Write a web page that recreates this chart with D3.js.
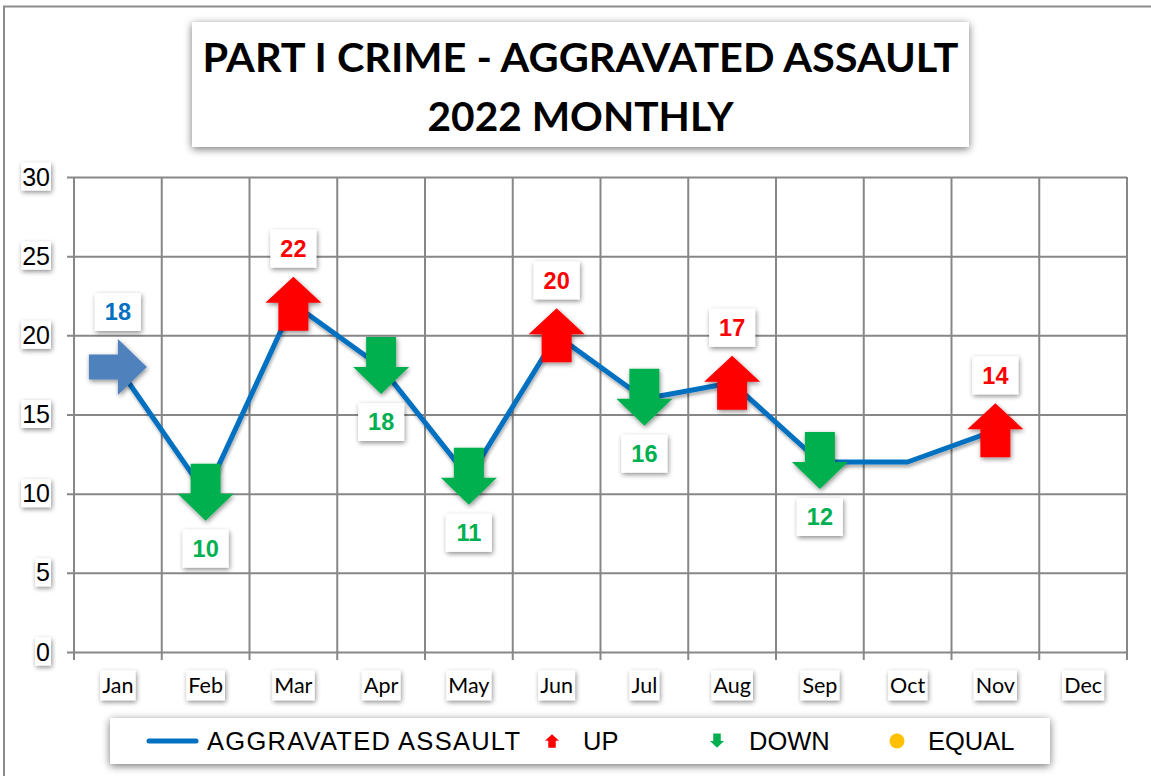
<!DOCTYPE html>
<html>
<head>
<meta charset="utf-8">
<script src="https://cdn.jsdelivr.net/npm/d3@7"></script>
<style>
  html, body { margin: 0; padding: 0; background: #fff; }
  svg { display: block; }
</style>
</head>
<body>
<svg id="chart" width="1151" height="776"></svg>
<script>
// Monthly counts and the trend marker shown at each month
const months = ["Jan", "Feb", "Mar", "Apr", "May", "Jun", "Jul", "Aug", "Sep", "Oct", "Nov", "Dec"];
const counts = [18, 10, 22, 18, 11, 20, 16, 17, 12, 12, 14, null];
const trend  = ["start", "down", "up", "down", "down", "up", "down", "up", "down", "none", "up", "none"];
const yTicks = [0, 5, 10, 15, 20, 25, 30];
const titleLines = ["PART I CRIME - AGGRAVATED ASSAULT", "2022 MONTHLY"];
const legendItems = [
  { key: "line",  label: "AGGRAVATED ASSAULT" },
  { key: "up",    label: "UP" },
  { key: "down",  label: "DOWN" },
  { key: "equal", label: "EQUAL" }
];

const COLORS = {
  line: "#0070C0", up: "#FF0000", down: "#00B050", start: "#4F81BD",
  startLabel: "#0070C0", equal: "#FFC000", grid: "#878787"
};

const svg = d3.select("#chart");
const defs = svg.append("defs");

function shadow(id, dx, dy, blur, opacity) {
  const f = defs.append("filter").attr("id", id)
    .attr("x", "-30%").attr("y", "-30%").attr("width", "160%").attr("height", "160%");
  f.append("feGaussianBlur").attr("in", "SourceAlpha").attr("stdDeviation", blur).attr("result", "b");
  f.append("feOffset").attr("in", "b").attr("dx", dx).attr("dy", dy).attr("result", "o");
  f.append("feComponentTransfer").attr("in", "o").attr("result", "s")
    .append("feFuncA").attr("type", "linear").attr("slope", opacity);
  const m = f.append("feMerge");
  m.append("feMergeNode").attr("in", "s");
  m.append("feMergeNode").attr("in", "SourceGraphic");
}
shadow("soft", 1, 2, 2.5, 0.45);
shadow("boxShadow", 0, 2, 4, 0.55);
shadow("lineShadow", 1, 3, 1.5, 0.3);

// outer frame
svg.append("rect").attr("x", 4).attr("y", 6.5).attr("width", 1160).attr("height", 780)
  .attr("fill", "#fff").attr("stroke", "#8c8c8c").attr("stroke-width", 2);

// plot scales
const plot = { left: 74, right: 1127, top: 177, bottom: 652 };
const x = d3.scaleBand().domain(months).range([plot.left, plot.right]);
const y = d3.scaleLinear().domain([0, 30]).range([plot.bottom, plot.top]);
const cx = m => x(m) + x.bandwidth() / 2;

// title box
const tg = svg.append("g");
tg.append("rect").attr("x", 192).attr("y", 22).attr("width", 777).attr("height", 125)
  .attr("fill", "#fff").attr("filter", "url(#boxShadow)");
const titleW = [756, 306];
const titleY = [72, 131];
titleLines.forEach((t, i) => {
  tg.append("text").attr("x", 580.5).attr("y", titleY[i]).attr("text-anchor", "middle")
    .attr("font-family", "Lato, 'Open Sans', sans-serif").attr("font-weight", 700)
    .attr("font-size", 40).attr("fill", "#000")
    .attr("textLength", titleW[i]).attr("lengthAdjust", "spacingAndGlyphs")
    .text(t);
});

// horizontal gridlines + y labels
const yAxis = svg.append("g").attr("transform", `translate(${plot.left - 7},0)`)
  .call(d3.axisLeft(y).tickValues(yTicks).tickSize(-(plot.right - plot.left + 7)).tickPadding(17));
yAxis.select(".domain").remove();
yAxis.selectAll(".tick line").attr("stroke", COLORS.grid).attr("stroke-width", 2);
yAxis.selectAll(".tick text").attr("font-family", "Arial, 'Liberation Sans', sans-serif")
  .attr("font-size", 25).attr("fill", "#000");

// vertical gridlines at band edges, extended below the base as ticks
const edges = months.map(m => x(m)).concat([plot.right]);
svg.append("g").selectAll("line").data(edges).join("line")
  .attr("x1", d => d).attr("x2", d => d)
  .attr("y1", plot.top).attr("y2", plot.bottom + 8)
  .attr("stroke", COLORS.grid).attr("stroke-width", 2);

// month labels
const xAxis = svg.append("g").attr("transform", `translate(0,${plot.bottom})`)
  .call(d3.axisBottom(x).tickSize(0).tickPadding(26));
xAxis.select(".domain").remove();
xAxis.selectAll(".tick text").attr("font-family", "Lato, 'Open Sans', sans-serif")
  .attr("font-size", 21.5).attr("fill", "#000");

// white boxes behind axis labels
function boxBehind(sel, padX, padY) {
  sel.each(function () {
    const b = this.getBBox();
    d3.select(this.parentNode).insert("rect", "text")
      .attr("x", b.x - padX).attr("y", b.y - padY)
      .attr("width", b.width + 2 * padX).attr("height", b.height + 2 * padY)
      .attr("fill", "#fff").attr("filter", "url(#soft)");
  });
}
boxBehind(yAxis.selectAll(".tick text"), 1, 0);
boxBehind(xAxis.selectAll(".tick text"), 2, 2);

// the series line
const pts = months.map((m, i) => ({ m, v: counts[i], t: trend[i] })).filter(d => d.v != null);
const line = d3.line().x(d => cx(d.m)).y(d => y(d.v));
svg.append("path").datum(pts).attr("d", line)
  .attr("fill", "none").attr("stroke", COLORS.line).attr("stroke-width", 5)
  .attr("stroke-linejoin", "round").attr("filter", "url(#lineShadow)");

// arrow marker shapes, centred on the point
function poly(points) {
  return points.map((p, i) => (i ? "L" : "M") + p[0] + "," + p[1]).join("") + "Z";
}
function arrowPath(type, px, py, s) {
  s = s || 1;
  if (type === "up") {
    return poly([
      [px, py - 27 * s], [px + 28 * s, py - 1 * s], [px + 15 * s, py - 1 * s], [px + 15 * s, py + 27 * s],
      [px - 15 * s, py + 27 * s], [px - 15 * s, py - 1 * s], [px - 28 * s, py - 1 * s]
    ]);
  }
  if (type === "down") {
    return poly([
      [px, py + 27 * s], [px + 28 * s, py], [px + 15 * s, py], [px + 15 * s, py - 30 * s],
      [px - 15 * s, py - 30 * s], [px - 15 * s, py], [px - 28 * s, py]
    ]);
  }
  // pointing right
  return poly([
    [px + 29, py], [px, py - 28], [px, py - 12.5], [px - 29, py - 12.5],
    [px - 29, py + 12.5], [px, py + 12.5], [px, py + 28]
  ]);
}

const marked = pts.filter(d => d.t !== "none");
svg.append("g").selectAll("path").data(marked).join("path")
  .attr("d", d => arrowPath(d.t, cx(d.m), y(d.v)))
  .attr("fill", d => COLORS[d.t]).attr("filter", "url(#soft)");

// value labels: above for up/start, below for down
const lg = svg.append("g").selectAll("g").data(marked).join("g")
  .attr("transform", d => `translate(${cx(d.m)},${y(d.v) + (d.t === "down" ? 55 : -55)})`);
lg.append("rect").attr("x", -23).attr("y", -19).attr("width", 46).attr("height", 38)
  .attr("fill", "#fff").attr("filter", "url(#soft)");
lg.append("text").attr("text-anchor", "middle").attr("dy", "0.36em")
  .attr("font-family", "Arial, 'Liberation Sans', sans-serif").attr("font-weight", 700)
  .attr("font-size", 23.5)
  .attr("fill", d => d.t === "start" ? COLORS.startLabel : COLORS[d.t])
  .text(d => d.v);

// legend
const leg = svg.append("g");
leg.append("rect").attr("x", 110).attr("y", 718).attr("width", 940).attr("height", 46)
  .attr("fill", "#fff").attr("filter", "url(#boxShadow)");
const legendX = { line: 207, up: 583, down: 749, equal: 928 };
const legendBaseline = 750;
legendItems.forEach(it => {
  const t = leg.append("text").attr("x", legendX[it.key]).attr("y", legendBaseline)
    .attr("font-family", "Arial, 'Liberation Sans', sans-serif").attr("font-size", 25.5)
    .attr("fill", "#000").text(it.label);
  if (it.key === "line") t.attr("textLength", 313).attr("lengthAdjust", "spacing");
});
leg.append("line").attr("x1", 149).attr("x2", 196).attr("y1", 741).attr("y2", 741)
  .attr("stroke", COLORS.line).attr("stroke-width", 5).attr("stroke-linecap", "round");
leg.append("path").attr("d", arrowPath("up", 552, 741, 0.25)).attr("fill", COLORS.up);
leg.append("path").attr("d", arrowPath("down", 717, 741, 0.25)).attr("fill", COLORS.down);
leg.append("circle").attr("cx", 897).attr("cy", 741).attr("r", 7.5).attr("fill", COLORS.equal);
</script>
</body>
</html>
